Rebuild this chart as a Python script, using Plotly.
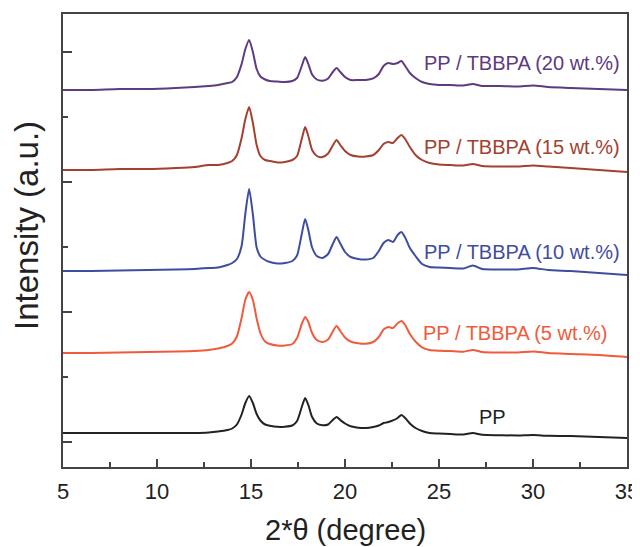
import plotly.graph_objects as go

# 2-theta grid (degree)
two_theta = [5, 6.5, 8, 9.5, 11, 12, 12.75, 13.25, 13.75, 14.0, 14.25, 14.5, 14.7, 14.9, 15.1,
             15.3, 15.5, 15.75, 16.0, 16.4, 16.8, 17.2, 17.45, 17.7, 17.88, 18.05, 18.25, 18.5,
             18.8, 19.1, 19.35, 19.55, 19.75, 20.0, 20.3, 20.7, 21.1, 21.5, 21.8, 22.05, 22.3,
             22.55, 22.8, 23.0, 23.2, 23.45, 23.75, 24.1, 24.5, 25.0, 25.6, 26.3, 26.8, 27.3,
             28.2, 29.2, 30.0, 30.8, 32.0, 33.5, 35.0]

# stacked intensities (a.u., vertical offset included)
pp_20 = [352, 352, 353, 353, 354, 355, 356, 357, 359, 360, 365, 378, 393, 402, 390,
         373, 365.5, 362.5, 361, 360.5, 360, 361, 364, 376, 385, 378, 367.5, 362.5,
         361.3, 363.5, 370, 374, 370, 365, 362, 362, 362, 363.6, 368, 376, 379,
         378, 379, 381, 376, 369, 364, 360, 358, 357, 357, 356.5, 358, 356,
         356, 355.5, 356.5, 355, 354, 353, 352]
pp_15 = [272, 272, 273, 273, 274, 275, 277, 277, 279, 281, 287, 304, 323, 335, 319,
         297, 286, 282, 281, 279.5, 280, 282, 286, 303, 315, 306, 292, 286,
         285, 288.5, 296.5, 302, 297, 291, 287, 285.5, 285.5, 287, 292, 298, 300,
         299, 304, 307, 303, 295, 287, 282, 279, 277.5, 277, 276.5, 278, 276,
         275.5, 275.5, 276.5, 275.5, 274, 272, 270]
pp_10 = [171, 171, 171.5, 172, 172.5, 173, 174, 174.5, 177, 179, 183, 196, 228.5, 253, 227.5,
         194.5, 185.5, 182, 180, 178.5, 179, 181, 186.5, 208, 223, 212, 194.5, 186,
         184, 188, 198, 205, 198.5, 190, 185, 183, 182.5, 184, 191, 199, 202,
         200, 207, 210, 204.5, 194, 186, 178, 175, 174.5, 174, 173.5, 176.5, 173,
         172.5, 172.5, 174, 172, 171, 169, 167]
pp_5 = [89, 89, 89.5, 90, 90.5, 91, 92, 93.5, 96, 98.5, 105.5, 124, 142.5, 150, 142,
        123.5, 109, 100.5, 98, 96.5, 96.5, 98, 104, 118, 125, 120, 109, 102,
        100, 102.5, 110.5, 116, 111, 104.5, 100.5, 98.7, 98.2, 100, 105, 112.5, 115,
        114, 118.7, 121, 117, 108, 100.5, 94.7, 92, 91.3, 91, 90.3, 92, 90,
        89.5, 89.5, 90.5, 89, 88, 87, 85]
pp_0 = [9, 9, 9, 9, 9, 9, 9.5, 10.5, 12, 13.5, 17.5, 27.5, 39, 46, 39,
        28, 21.5, 17.5, 16.3, 15.2, 15.3, 16.5, 21, 35, 44, 37, 25, 18.5,
        16.7, 17.5, 22, 25, 22, 18.5, 15.8, 14.3, 14, 15, 16.5, 19, 20,
        21.6, 24, 27, 24, 18.5, 14, 11, 9, 8.5, 8, 7.5, 9, 7.2,
        6.8, 6.5, 7, 6.2, 6, 5, 4]

names = ["PP / TBBPA (20 wt.%)", "PP / TBBPA (15 wt.%)", "PP / TBBPA (10 wt.%)",
         "PP / TBBPA (5 wt.%)", "PP"]
values = [pp_20, pp_15, pp_10, pp_5, pp_0]
colors = ["#5d3b80", "#a3402f", "#3f4da0", "#f25a3c", "#222222"]
label_x = [34.75, 34.75, 34.75, 34.1, 27.87]
label_y = [379, 295, 190, 109, 25]
label_anchor = ["right", "right", "right", "right", "center"]

fig = go.Figure()
for name, ys, col in zip(names, values, colors):
    fig.add_trace(go.Scatter(x=two_theta, y=ys, mode="lines", name=name,
                             line=dict(color=col, width=2, shape="spline", smoothing=0.6),
                             showlegend=False))

for name, col, lx, ly, anc in zip(names, colors, label_x, label_y, label_anchor):
    fig.add_annotation(x=lx, y=ly, text=name, showarrow=False,
                       font=dict(family="Liberation Sans, Arial", size=20, color=col),
                       xanchor=anc, yanchor="middle")

# axis titles
fig.add_annotation(xref="paper", yref="paper", x=0.5, y=-0.139, text="2*θ (degree)",
                   showarrow=False, font=dict(size=29, color="#222"),
                   xanchor="center", yanchor="middle")
fig.add_annotation(xref="paper", yref="paper", x=-0.0656, y=0.532, text="Intensity (a.u.)",
                   showarrow=False, textangle=-90, font=dict(size=33, color="#222"),
                   xanchor="center", yanchor="middle")

# page body has an 8px margin, so the figure is sized/offset to land the plot
# area at x 63..627, y 14..467 of the 640x547 window
fig.update_layout(
    width=632, height=539,
    margin=dict(l=55, r=13, t=6, b=80),
    paper_bgcolor="white", plot_bgcolor="white",
    font=dict(family="Liberation Sans, Arial", color="#222"),
)
fig.update_xaxes(range=[5, 35], tick0=5, dtick=5, ticks="inside", ticklen=8, tickwidth=1.5,
                 tickcolor="#444", showline=True, linecolor="#444", linewidth=2, mirror=True,
                 showgrid=False, zeroline=False, tickfont=dict(size=22, color="#222"),
                 ticklabelstandoff=4, automargin=False,
                 minor=dict(ticks="inside", ticklen=5, tickwidth=1.5, tickcolor="#444",
                            dtick=2.5, tick0=5, showgrid=False))
fig.update_yaxes(range=[-25, 428], tick0=0, dtick=130, ticks="inside", ticklen=9, tickwidth=1.5,
                 tickcolor="#444", showline=True, linecolor="#444", linewidth=2, mirror=True,
                 showgrid=False, zeroline=False, showticklabels=False, automargin=False,
                 minor=dict(ticks="inside", ticklen=5, tickwidth=1.5, tickcolor="#444",
                            dtick=65, tick0=0, showgrid=False))

fig.write_html("out.html")
